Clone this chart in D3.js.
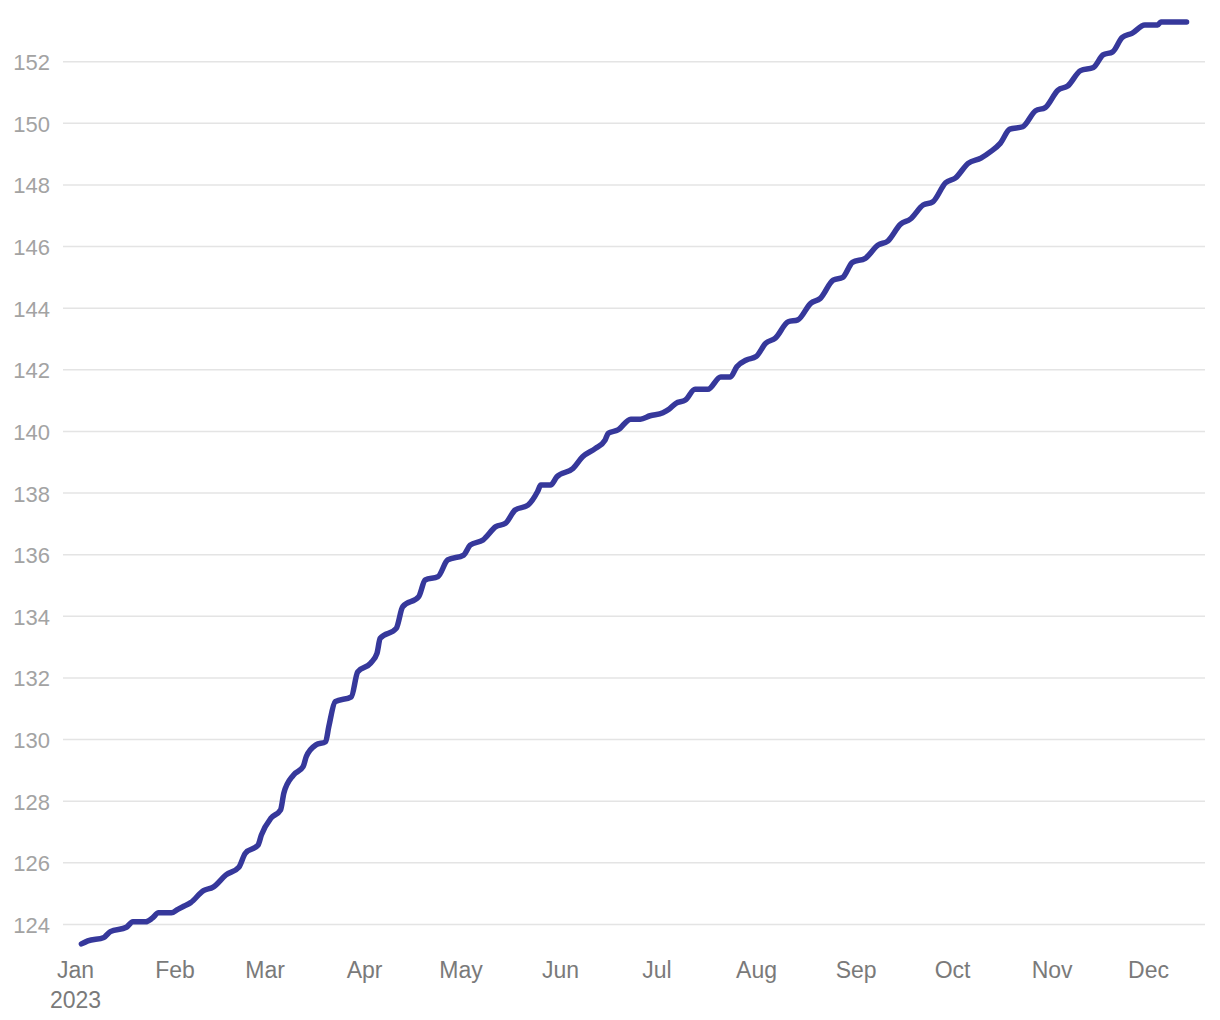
<!DOCTYPE html>
<html>
<head>
<meta charset="utf-8">
<script src="https://cdn.jsdelivr.net/npm/d3@7"></script>
<style>
  html, body { margin: 0; padding: 0; background: #fff; }
  svg { display: block; }
</style>
</head>
<body>
<svg id="chart" width="1220" height="1020"></svg>
<script>
// ---- data ----
const dates = [
  "2023-01-03","2023-01-05","2023-01-10","2023-01-12","2023-01-17","2023-01-19","2023-01-23","2023-01-25","2023-01-27","2023-01-31",
  "2023-02-02","2023-02-04","2023-02-06","2023-02-10","2023-02-13","2023-02-17","2023-02-21","2023-02-23","2023-02-27","2023-02-28",
  "2023-03-03","2023-03-06","2023-03-07","2023-03-10","2023-03-13","2023-03-14","2023-03-17","2023-03-20","2023-03-21","2023-03-23",
  "2023-03-28","2023-03-30","2023-04-03","2023-04-05","2023-04-06","2023-04-11","2023-04-13","2023-04-18","2023-04-20","2023-04-24",
  "2023-04-27","2023-05-02","2023-05-04","2023-05-08","2023-05-12","2023-05-15","2023-05-18","2023-05-22","2023-05-25","2023-05-26",
  "2023-05-29","2023-05-31","2023-06-05","2023-06-08","2023-06-12","2023-06-15","2023-06-16","2023-06-19","2023-06-23","2023-06-26",
  "2023-06-29","2023-07-03","2023-07-05","2023-07-07","2023-07-10","2023-07-13","2023-07-17","2023-07-21","2023-07-24","2023-07-26",
  "2023-07-29","2023-08-01","2023-08-04","2023-08-07","2023-08-11","2023-08-14","2023-08-18","2023-08-21","2023-08-25","2023-08-28",
  "2023-08-31","2023-09-04","2023-09-08","2023-09-11","2023-09-15","2023-09-18","2023-09-22","2023-09-25","2023-09-29","2023-10-02",
  "2023-10-06","2023-10-10","2023-10-13","2023-10-16","2023-10-19","2023-10-23","2023-10-27","2023-10-30","2023-11-03","2023-11-06",
  "2023-11-10","2023-11-14","2023-11-17","2023-11-20","2023-11-23","2023-11-26","2023-11-30","2023-12-04","2023-12-05","2023-12-13"
];
const values = [
  123.37,123.47,123.58,123.77,123.91,124.09,124.09,124.20,124.38,124.38,
  124.49,124.60,124.71,125.10,125.21,125.61,125.86,126.31,126.58,126.90,
  127.45,127.72,128.26,128.85,129.12,129.45,129.83,129.93,130.42,131.23,
  131.39,132.20,132.48,132.80,133.29,133.61,134.31,134.64,135.18,135.29,
  135.83,135.99,136.31,136.48,136.91,137.02,137.45,137.61,138.05,138.26,
  138.26,138.53,138.80,139.18,139.45,139.72,139.94,140.05,140.40,140.40,
  140.51,140.61,140.73,140.91,141.02,141.37,141.37,141.77,141.77,142.10,
  142.32,142.43,142.86,143.03,143.56,143.62,144.16,144.32,144.91,145.00,
  145.49,145.62,146.05,146.18,146.73,146.89,147.35,147.45,148.07,148.22,
  148.70,148.87,149.08,149.35,149.81,149.89,150.41,150.51,151.08,151.21,
  151.71,151.81,152.22,152.32,152.79,152.92,153.19,153.19,153.29,153.29
];
const yTicks = [124,126,128,130,132,134,136,138,140,142,144,146,148,150,152];
const monthLabels = ["Jan","Feb","Mar","Apr","May","Jun","Jul","Aug","Sep","Oct","Nov","Dec"];
const yearLabel = "2023";

// ---- chart ----
const parse = d3.timeParse("%Y-%m-%d");
const data = dates.map((d, i) => ({ date: parse(d), value: values[i] }));

const svg = d3.select("#chart");
const gridLeft = 63, gridRight = 1205;

const x = d3.scaleTime()
  .domain([new Date(2023, 0, 1), new Date(2023, 11, 1)])
  .range([75, 1148]);
const y = d3.scaleLinear()
  .domain([124, 152])
  .range([924.5, 61.7]);

const font = "'Liberation Sans', Arial, Helvetica, sans-serif";

// gridlines
svg.append("g").selectAll("line")
  .data(yTicks).join("line")
  .attr("x1", gridLeft).attr("x2", gridRight)
  .attr("y1", d => y(d)).attr("y2", d => y(d))
  .attr("stroke", "#e4e4e4").attr("stroke-width", 1.5);

// y axis labels
const yAxis = d3.axisLeft(y).tickValues(yTicks).tickSize(0).tickPadding(0).tickFormat(d3.format("d"));
const gy = svg.append("g").attr("transform", "translate(50,0)").call(yAxis);
gy.select(".domain").remove();
gy.selectAll("text")
  .attr("font-family", font).attr("font-size", 22).attr("fill", "#a3a3a3")
  .attr("dy", "0.36em");

// x axis labels
const monthTicks = monthLabels.map((m, i) => new Date(2023, i, 1));
const xAxis = d3.axisBottom(x).tickValues(monthTicks).tickSize(0).tickPadding(0)
  .tickFormat((d, i) => monthLabels[i]);
const gx = svg.append("g").attr("transform", "translate(0,978)").call(xAxis);
gx.select(".domain").remove();
gx.selectAll("text")
  .attr("font-family", font).attr("font-size", 23).attr("fill", "#7a7a7a")
  .attr("y", 0).attr("dy", 0);
gx.selectAll(".tick").filter((d, i) => i === 0)
  .append("text")
  .attr("font-family", font).attr("font-size", 23).attr("fill", "#7a7a7a")
  .attr("text-anchor", "middle").attr("y", 29.5)
  .text(yearLabel);

// line
const line = d3.line()
  .x(d => x(d.date))
  .y(d => y(d.value))
  .curve(d3.curveMonotoneX);
svg.append("path")
  .datum(data)
  .attr("d", line)
  .attr("fill", "none")
  .attr("stroke", "#36389b")
  .attr("stroke-width", 5.5)
  .attr("stroke-linecap", "round")
  .attr("stroke-linejoin", "round");
</script>
</body>
</html>
